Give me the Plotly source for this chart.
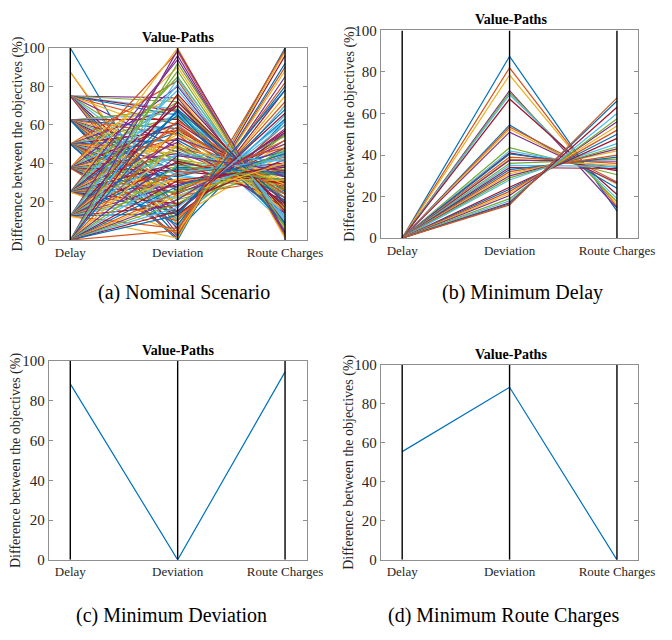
import plotly.graph_objects as go

objectives = ["Delay", "Deviation", "Route Charges"]
y_ticks = [0, 20, 40, 60, 80, 100]

# (a) Nominal Scenario: one path per solution (Delay, Deviation, Route Charges)
delay_a = [100, 87.5, 87.5,
           75, 75, 75, 75, 75, 75, 75, 75, 75, 75, 75, 75, 75, 75, 75,
           62.5, 62.5, 62.5, 62.5, 62.5, 62.5, 62.5, 62.5, 62.5, 62.5, 62.5, 62.5, 62.5, 62.5, 62.5, 62.5, 62.5, 62.5,
           50, 50, 50, 50, 50, 50, 50, 50, 50, 50, 50, 50, 50, 50, 50, 50, 50, 50, 50, 50, 50,
           37.5, 37.5, 37.5, 37.5, 37.5, 37.5, 37.5, 37.5, 37.5, 37.5, 37.5, 37.5, 37.5, 37.5, 37.5, 37.5, 37.5, 37.5, 37.5, 37.5, 37.5, 37.5,
           25, 25, 25, 25, 25, 25, 25, 25, 25, 25, 25, 25, 25, 25, 25, 25, 25, 25, 25, 25, 25, 25,
           12.5, 12.5, 12.5, 12.5, 12.5, 12.5, 12.5, 12.5, 12.5, 12.5, 12.5, 12.5, 12.5, 12.5, 12.5, 12.5, 12.5, 12.5, 12.5, 12.5, 12.5,
           0, 0, 0, 0, 0, 0, 0, 0, 0, 0, 0, 0, 0, 0, 0, 0, 0, 0, 0, 0]
deviation_a = [5, 8, 12,
               74, 72, 68, 67, 65, 60, 55, 48, 40, 33, 25, 18, 12, 8, 3,
               68, 66, 63, 58, 55, 50, 46, 42, 38, 35, 30, 27, 22, 18, 14, 10, 6, 2,
               83, 75, 70, 64, 60, 57, 52, 48, 45, 41, 37, 34, 30, 26, 23, 19, 15, 11, 7, 1, 0,
               98, 90, 80, 72, 66, 61, 56, 53, 49, 45, 42, 39, 36, 33, 30, 27, 24, 21, 17, 13, 8, 3,
               100, 94, 85, 78, 70, 65, 59, 55, 51, 47, 44, 40, 37, 34, 31, 28, 25, 22, 19, 15, 10, 4,
               96, 88, 81, 72, 67, 62, 57, 53, 49, 45, 41, 38, 35, 32, 29, 26, 23, 18, 14, 6, 1,
               99, 92, 84, 76, 68, 58, 50, 44, 39, 35, 31, 28, 25, 23, 21, 19, 17, 15, 13, 5]
route_charges_a = [62, 70, 45,
                   8, 12, 20, 15, 25, 18, 30, 22, 35, 28, 40, 55, 60, 75, 85,
                   10, 22, 18, 26, 12, 30, 24, 33, 28, 40, 32, 45, 38, 52, 48, 65, 78, 92,
                   5, 10, 14, 20, 8, 27, 22, 35, 18, 30, 42, 25, 36, 44, 32, 50, 58, 55, 70, 96, 100,
                   2, 6, 9, 16, 13, 24, 19, 28, 16, 33, 26, 38, 30, 46, 35, 40, 48, 36, 60, 56, 80, 90,
                   1, 4, 7, 11, 17, 9, 22, 31, 14, 27, 38, 21, 34, 43, 29, 50, 37, 46, 42, 63, 72, 88,
                   3, 5, 12, 19, 8, 26, 15, 33, 24, 41, 29, 35, 48, 31, 39, 54, 44, 57, 68, 82, 98,
                   4, 7, 10, 15, 20, 24, 29, 36, 31, 42, 38, 45, 52, 40, 56, 47, 62, 66, 78, 99]

# (b) Minimum Delay
deviation_b = [87.5, 82, 78.5, 71, 70, 69, 67, 54.5, 53.5, 52.5, 51, 43.5, 42, 41, 40.5,
               39, 38, 37.5, 36, 35, 34, 33, 32, 31, 30, 29, 28, 24.5, 23.5, 22.5, 21.5,
               20.5, 19, 18, 17, 16.5, 16]
route_charges_b = [13, 15, 16, 14.5, 17.5, 19, 21, 24, 27, 26, 26.5, 30.5, 33, 32.5, 34,
                   36, 35, 37, 38, 34.5, 33.5, 39, 40, 42, 43, 44, 45.5, 48, 50, 52, 54,
                   56, 57.5, 60, 63, 66, 67.5]
delay_b = [0] * len(deviation_b)

# (c) Minimum Deviation
delay_c = [88.5]
deviation_c = [0]
route_charges_c = [94.5]

# (d) Minimum Route Charges
delay_d = [55.5]
deviation_d = [88.5]
route_charges_d = [0]

captions = ["(a) Nominal Scenario", "(b) Minimum Delay",
            "(c) Minimum Deviation", "(d) Minimum Route Charges"]

matlab_colors = ["#0072BD", "#D95319", "#EDB120", "#7E2F8E",
                 "#77AC30", "#4DBEEE", "#A2142F"]

W, H = 672, 640

# panel boxes in pixels: (left, right, top, bottom)
panels = [
    dict(box=(50, 314, 41, 238), title=(182, 30), ylab=(18, 139.5), cap=(188, 292)),
    dict(box=(390, 654, 23, 236), title=(523, 12), ylab=(359, 129.5), cap=(535, 292)),
    dict(box=(50, 314, 362, 566), title=(182, 351), ylab=(17, 464), cap=(176, 623)),
    dict(box=(390, 654, 366, 566), title=(523, 355), ylab=(358, 466), cap=(516, 623)),
]

data_sets = [
    (delay_a, deviation_a, route_charges_a),
    (delay_b, deviation_b, route_charges_b),
    (delay_c, deviation_c, route_charges_c),
    (delay_d, deviation_d, route_charges_d),
]

fig = go.Figure()
serif = "Liberation Serif"
layout = dict(width=W, height=H, margin=dict(l=0, r=0, t=0, b=0),
              paper_bgcolor="white", plot_bgcolor="white", showlegend=False,
              annotations=[])

for i, (p, (dl, dv, rc)) in enumerate(zip(panels, data_sets)):
    n = "" if i == 0 else str(i + 1)
    xa, ya = "x" + n, "y" + n
    for k in range(len(dl)):
        fig.add_trace(go.Scatter(
            x=objectives, y=[dl[k], dv[k], rc[k]], mode="lines",
            line=dict(color=matlab_colors[k % 7], width=1.2),
            xaxis=xa, yaxis=ya, hoverinfo="skip"))
    for obj in objectives:
        fig.add_trace(go.Scatter(
            x=[obj, obj], y=[y_ticks[0], y_ticks[-1]], mode="lines",
            line=dict(color="black", width=1.4),
            xaxis=xa, yaxis=ya, hoverinfo="skip"))
    l, r, t, b = p["box"]
    layout["xaxis" + n] = dict(
        domain=[l / W, r / W], anchor=ya, type="category",
        categoryorder="array", categoryarray=objectives,
        range=[-0.2, 2.2], showgrid=False, zeroline=False,
        showline=True, linecolor="#8f8f8f", linewidth=1, mirror=True,
        ticks="", tickfont=dict(family=serif, size=13, color="#262626"),
        fixedrange=True)
    layout["yaxis" + n] = dict(
        domain=[1 - b / H, 1 - t / H], anchor=xa, range=[0, 100],
        tickvals=y_ticks, showgrid=False, zeroline=False,
        showline=True, linecolor="#8f8f8f", linewidth=1, mirror="ticks",
        ticks="inside", ticklen=4, tickcolor="#8f8f8f",
        tickfont=dict(family=serif, size=15, color="#262626"),
        fixedrange=True)
    tx, ty = p["title"]
    layout["annotations"].append(dict(
        x=tx / W, y=1 - ty / H, xref="paper", yref="paper",
        text="<b>Value-Paths</b>", showarrow=False,
        font=dict(family=serif, size=14, color="black"),
        xanchor="center", yanchor="middle"))
    lx, ly = p["ylab"]
    layout["annotations"].append(dict(
        x=lx / W, y=1 - ly / H, xref="paper", yref="paper",
        text="Difference between the objectives (%)", showarrow=False,
        textangle=-90, font=dict(family=serif, size=14, color="#262626"),
        xanchor="center", yanchor="middle"))
    cx, cy = p["cap"]
    layout["annotations"].append(dict(
        x=cx / W, y=1 - cy / H, xref="paper", yref="paper",
        text=captions[i], showarrow=False,
        font=dict(family=serif, size=20, color="black"),
        xanchor="center", yanchor="middle"))

fig.update_layout(**layout)
fig.write_html("out.html")
